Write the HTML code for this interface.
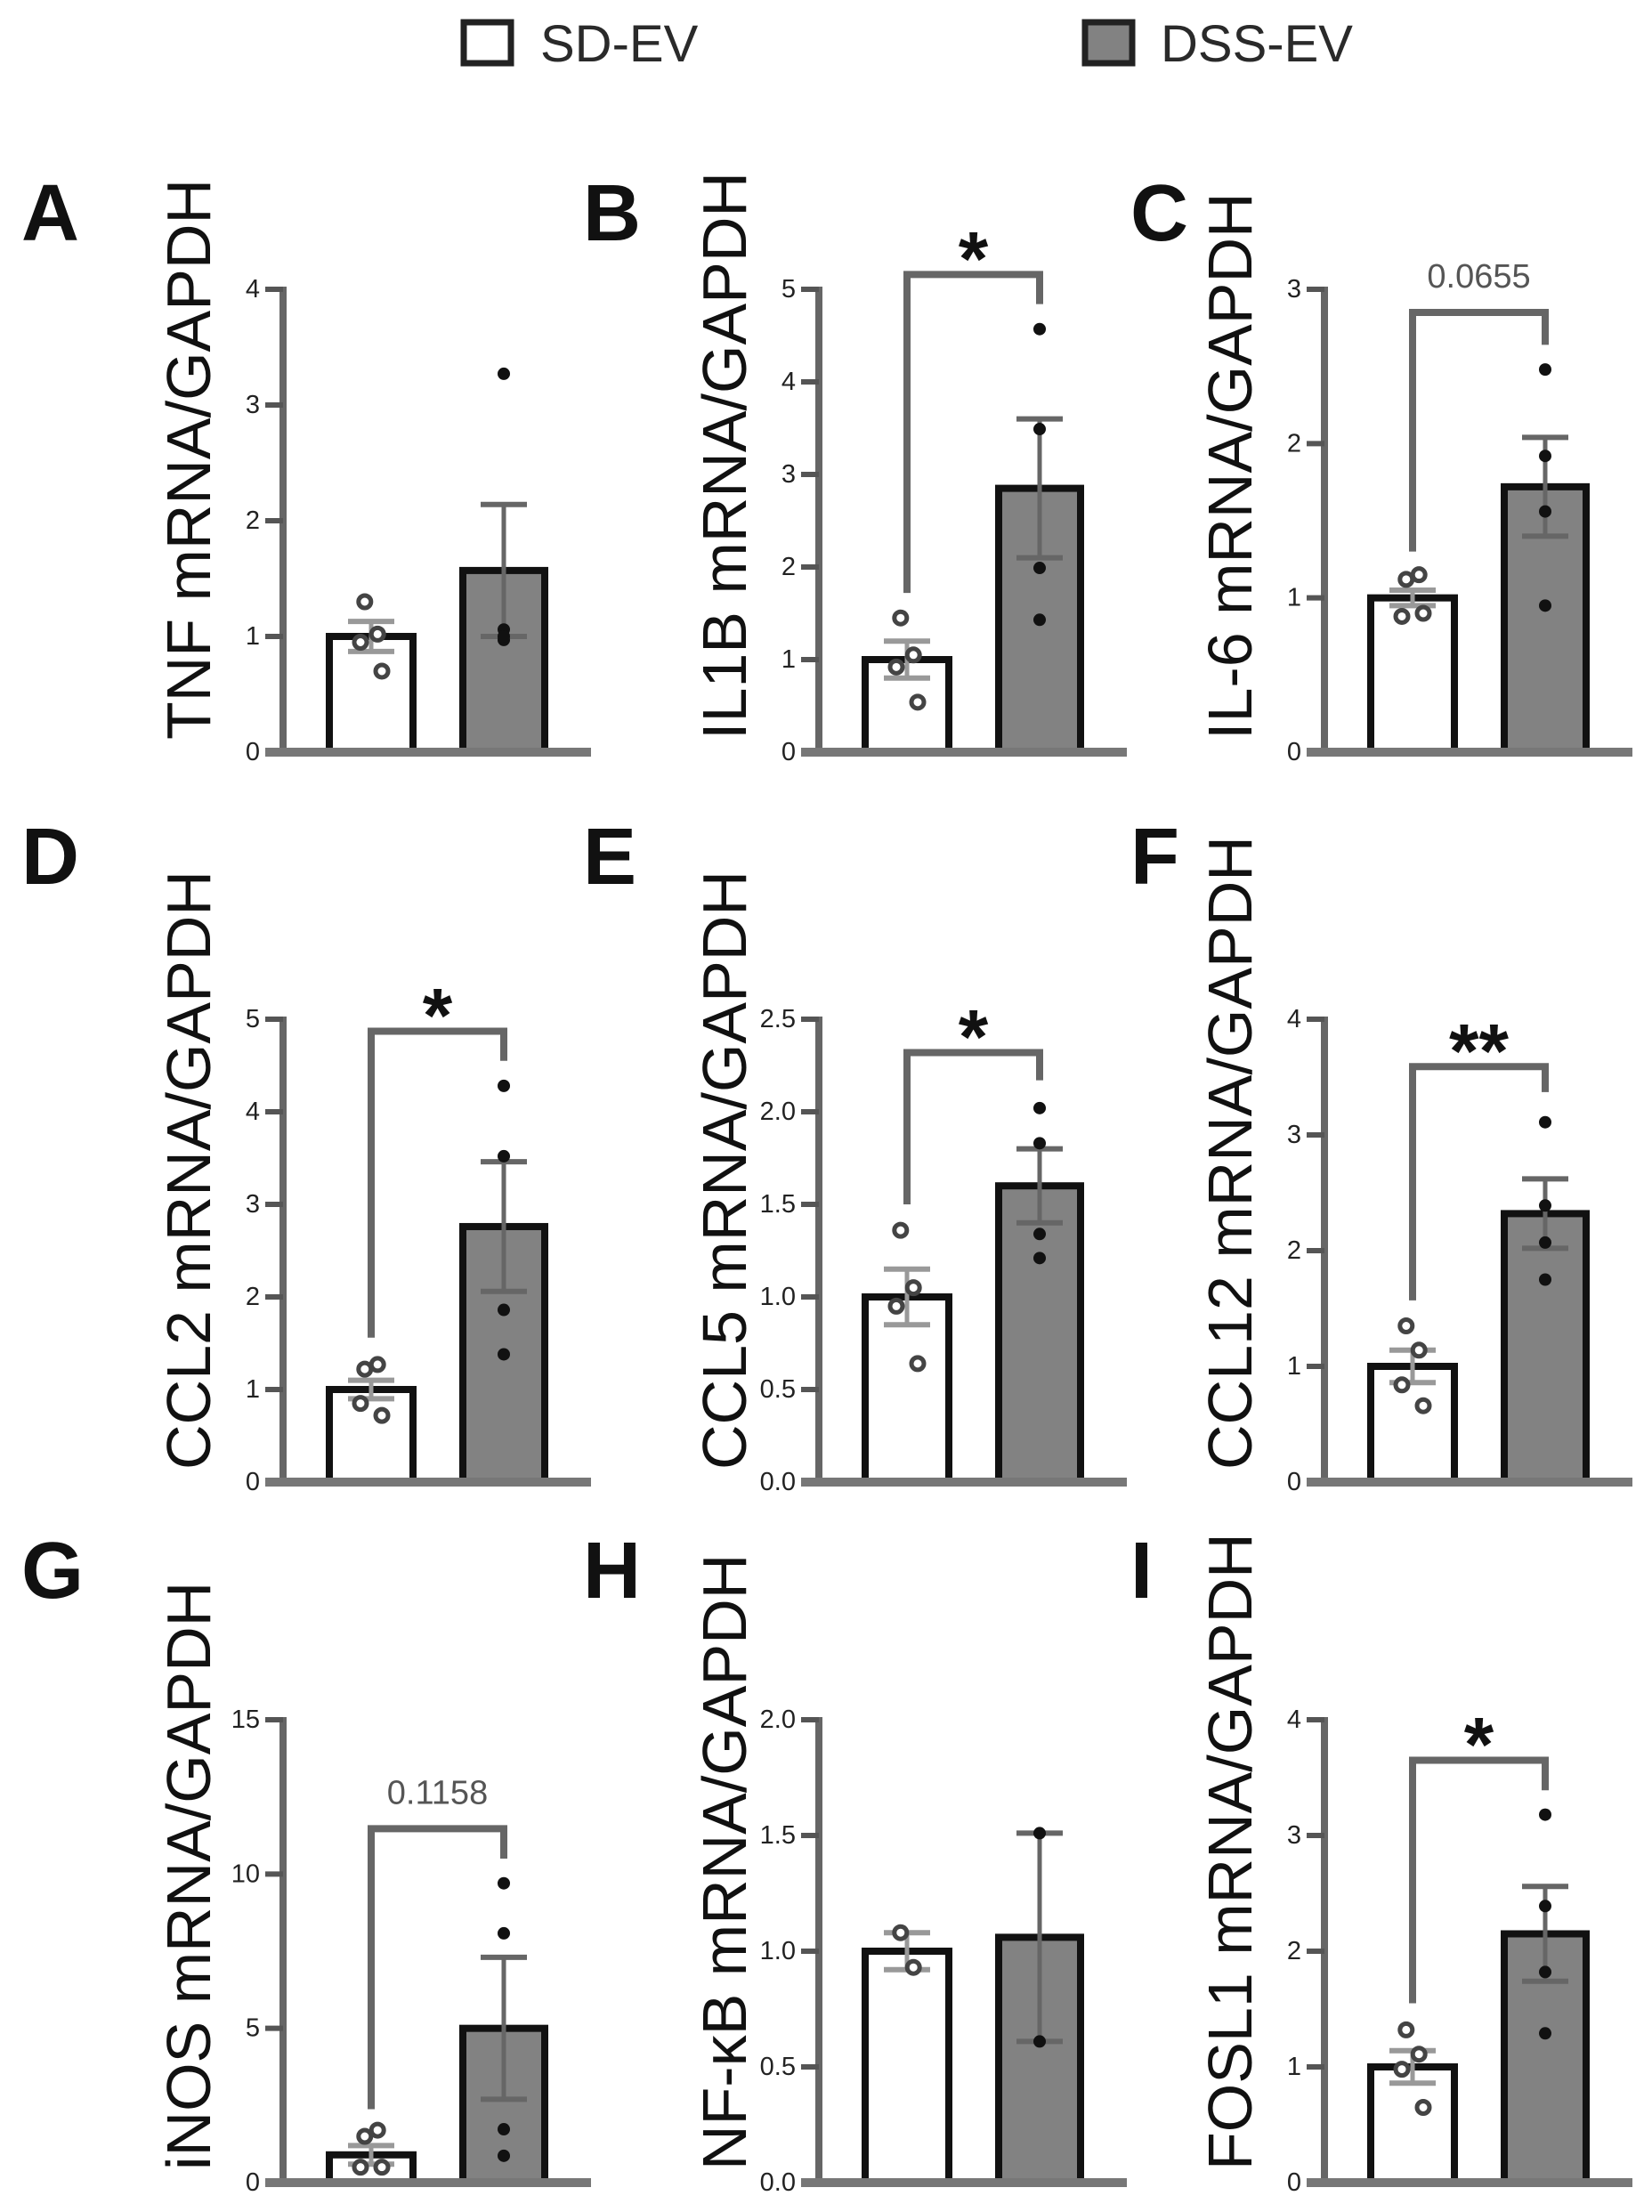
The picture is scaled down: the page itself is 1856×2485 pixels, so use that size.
<!DOCTYPE html>
<html><head><meta charset="utf-8">
<style>
html,body{margin:0;padding:0;background:#fff;}
svg{display:block;font-family:"Liberation Sans",sans-serif;}
</style></head>
<body>
<svg id="fig" width="1856" height="2485" viewBox="0 0 1856 2485">
  <g>
    <g>
      <rect x="521" y="25" width="53" height="46" fill="#fff" stroke="#222" stroke-width="7"/>
      <text x="607" y="69" font-size="58" fill="#2a2a2a">SD-EV</text>
    </g>
    <g>
      <rect x="1219" y="25" width="53" height="46" fill="#828282" stroke="#222" stroke-width="7"/>
      <text x="1304" y="69" font-size="58" fill="#2a2a2a">DSS-EV</text>
    </g>
  </g>
</svg>
<script>
// ---- data ----
const panelLetters = ["A","B","C","D","E","F","G","H","I"];
const yTitles = ["TNF mRNA/GAPDH","IL1B mRNA/GAPDH","IL-6 mRNA/GAPDH","CCL2 mRNA/GAPDH","CCL5 mRNA/GAPDH","CCL12 mRNA/GAPDH","iNOS mRNA/GAPDH","NF-\u03baB mRNA/GAPDH","FOSL1 mRNA/GAPDH"];
const yMax = [4,5,3,5,2.5,4,15,2,4];
const tickLabelsA = ["0","1","2","3","4"];
const tickLabelsB = ["0","1","2","3","4","5"];
const tickLabelsC = ["0","1","2","3"];
const tickLabelsD = ["0","1","2","3","4","5"];
const tickLabelsE = ["0.0","0.5","1.0","1.5","2.0","2.5"];
const tickLabelsF = ["0","1","2","3","4"];
const tickLabelsG = ["0","5","10","15"];
const tickLabelsH = ["0.0","0.5","1.0","1.5","2.0"];
const tickLabelsI = ["0","1","2","3","4"];
const tickLabels = [tickLabelsA,tickLabelsB,tickLabelsC,tickLabelsD,tickLabelsE,tickLabelsF,tickLabelsG,tickLabelsH,tickLabelsI];
const sdMean = [1.0,1.0,1.0,1.0,1.0,1.0,0.9,1.0,1.0];
const sdSem = [0.13,0.2,0.05,0.1,0.15,0.14,0.3,0.08,0.14];
const dssMean = [1.57,2.85,1.72,2.76,1.6,2.32,5.0,1.06,2.15];
const dssSem = [0.57,0.75,0.32,0.7,0.2,0.3,2.3,0.45,0.41];
const sdPoints = [[1.3,1.02,0.95,0.7],[1.45,1.05,0.92,0.54],[1.12,1.15,0.88,0.9],[1.22,1.27,0.85,0.72],[1.36,1.05,0.95,0.64],[1.35,1.14,0.84,0.66],[1.5,1.7,0.5,0.5],[1.08,0.93],[1.32,1.11,0.98,0.65]];
const dssPoints = [[3.27,1.06,0.97,1.0],[4.57,3.49,1.99,1.43],[2.48,1.92,1.56,0.95],[4.28,3.52,1.86,1.38],[2.02,1.83,1.34,1.21],[3.11,2.39,2.07,1.75],[9.7,8.08,1.73,0.87],[1.51,0.61],[3.18,2.39,1.82,1.29]];
const sigLabels = [null,"*","0.0655","*","*","**","0.1158",null,"*"];
const bracketY = [null,5.16,2.85,4.87,2.32,3.59,11.47,null,3.65];
const bracketLeftEnd = [null,1.72,1.30,1.56,1.5,1.57,2.38,null,1.55];
const bracketRightEnd = [null,4.84,2.64,4.55,2.17,3.37,10.5,null,3.39];

// ---- layout ----
const svg = document.getElementById('fig');
const NS = "http://www.w3.org/2000/svg";
const colAxis = [318,920,1488];
const rowBase = [845,1665,2452];
const rowLetterY = [270,993,1795];
const colLetterX = [24,655,1270];
const plotH = 520;
function mk(tag, attrs, parent){
  const e = document.createElementNS(NS, tag);
  for (const k in attrs) e.setAttribute(k, attrs[k]);
  (parent||svg).appendChild(e);
  return e;
}
for (let p=0;p<9;p++){
  const r = Math.floor(p/3), c = p%3;
  const ax = colAxis[c], base = rowBase[r];
  const y = v => base - v/yMax[p]*plotH;
  const g = mk('g',{});
  
  
  const L = mk('text',{x:colLetterX[c], y:rowLetterY[r], 'font-size':90,'font-weight':'bold',fill:'#111'},g);
  L.textContent = panelLetters[p];
  
  
  const tx = ax-106, ty = base-14;
  const T = mk('text',{x:tx, y:ty, 'font-size':70, fill:'#111', 'dominant-baseline':'central', transform:`rotate(-90 ${tx} ${ty})`},g);
  T.textContent = yTitles[p];
  
  
  const A = mk('g',{},g);
  
  
  mk('line',{x1:ax,y1:y(yMax[p])-3,x2:ax,y2:base,stroke:'#666','stroke-width':8},A);
  const labs = tickLabels[p];
  labs.forEach(lbl=>{
    const v = parseFloat(lbl), yy = y(v);
    mk('line',{x1:ax-20,y1:yy,x2:ax,y2:yy,stroke:'#555','stroke-width':6},A);
    const t = mk('text',{x:ax-26,y:yy,'font-size':29,fill:'#222','text-anchor':'end','dominant-baseline':'central'},A);
    t.textContent = lbl;
    
    
  });
  const wx0 = ax+52, wx1 = ax+146, gx0 = ax+202, gx1 = ax+294;
  const wc = (wx0+wx1)/2, gc = (gx0+gx1)/2;
  const b1 = mk('rect',{x:wx0,y:y(sdMean[p]),width:wx1-wx0,height:base-y(sdMean[p]),fill:'#fff',stroke:'#111','stroke-width':8},g);
  
  
  const b2 = mk('rect',{x:gx0,y:y(dssMean[p]),width:gx1-gx0,height:base-y(dssMean[p]),fill:'#828282',stroke:'#111','stroke-width':8},g);
  
  
  const X = mk('line',{x1:ax-20,y1:base,x2:ax+346,y2:base,stroke:'#777','stroke-width':10},g);
  
  
  [[wc,sdMean[p],sdSem[p],'#999'],[gc,dssMean[p],dssSem[p],'#666']].forEach(([cx,m,s,col])=>{
    const e = mk('g',{},g);
    
    
    mk('line',{x1:cx,y1:y(m+s),x2:cx,y2:y(m-s),stroke:col,'stroke-width':5},e);
    mk('line',{x1:cx-26,y1:y(m+s),x2:cx+26,y2:y(m+s),stroke:col,'stroke-width':6},e);
    mk('line',{x1:cx-26,y1:y(m-s),x2:cx+26,y2:y(m-s),stroke:col,'stroke-width':6},e);
  });
  const jit = [-12,12,-12,12];
  sdPoints[p].forEach((v,i)=>{
    const pt = mk('circle',{cx:wc+jit[i%4]*(i<2?0.6:1),cy:y(v),r:7,fill:'#fff',stroke:'#444','stroke-width':5},g);
    
    
  });
  dssPoints[p].forEach((v,i)=>{
    const pt = mk('circle',{cx:gc,cy:y(v),r:7,fill:'#111'},g);
    
    
  });
  if (sigLabels[p]){
    const s = mk('g',{},g);
    
    
    const by = y(bracketY[p]);
    mk('polyline',{points:`${wc},${y(bracketLeftEnd[p])} ${wc},${by} ${gc},${by} ${gc},${y(bracketRightEnd[p])}`,fill:'none',stroke:'#666','stroke-width':8},s);
    const lab = sigLabels[p];
    if (lab.startsWith('0')){
      const t = mk('text',{x:(wc+gc)/2,y:by-28,'font-size':38,fill:'#555','text-anchor':'middle'},s);
      t.textContent = lab;
      
      
    } else {
      const t = mk('text',{x:(wc+gc)/2,y:by+12,'font-size':86,'font-weight':'bold',fill:'#111','text-anchor':'middle'},s);
      t.textContent = lab;
      
      
    }
  }
}
</script>
</body></html>
